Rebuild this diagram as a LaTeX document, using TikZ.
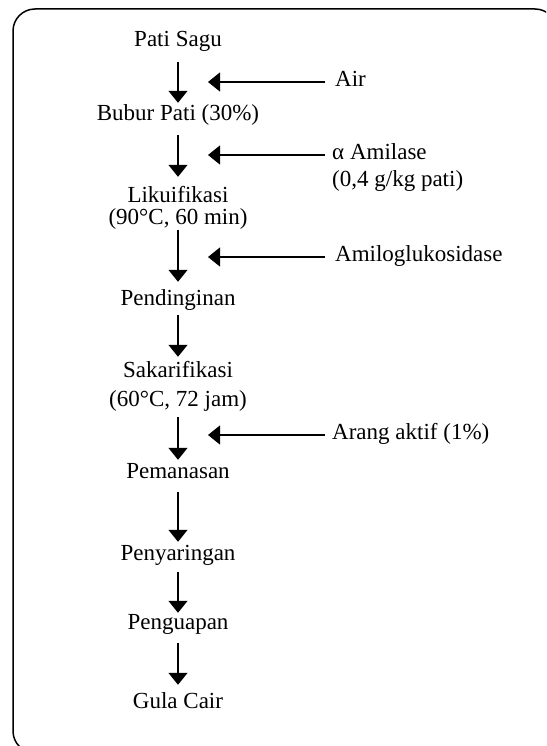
\documentclass[tikz,border=0pt]{standalone}
\usepackage{fontspec}
\setmainfont{Liberation Serif}
\usetikzlibrary{arrows.meta}
\tikzset{
  lbl/.style={inner sep=0pt, text height=14pt, text depth=5pt, font=\fontsize{23}{27}\selectfont},
  main/.style={lbl, anchor=center},
  side/.style={lbl, anchor=west},
  arr/.style={line width=1.2pt, -{Triangle[length=12pt,width=19pt]}},
  frame/.style={line width=1.5pt, rounded corners=22pt}
}
\begin{document}
\begin{tikzpicture}[x=1pt,y=-1pt]
\useasboundingbox (0,0) rectangle (546,746);
\clip (0,0) rectangle (546,746);
\draw[frame] (13,9) rectangle (557,753);
% main column
\node[main] (ps)  at (178,42)  {Pati Sagu};
\node[main] (bp)  at (178,116) {Bubur Pati (30\%)};
\node[main] (lk1) at (178,198) {Likuifikasi};
\node[main] (lk2) at (178,220) {(90°C, 60 min)};
\node[main] (pd)  at (178,301) {Pendinginan};
\node[main] (sk1) at (178,373) {Sakarifikasi};
\node[main] (sk2) at (178,402) {(60°C, 72 jam)};
\node[main] (pm)  at (178,474) {Pemanasan};
\node[main] (py)  at (178,556) {Penyaringan};
\node[main] (pg)  at (178,625) {Penguapan};
\node[main] (gc)  at (178,704) {Gula Cair};
% side inputs
\node[side] (air) at (335,82)  {Air};
\node[side] (am1) at (332,155) {α Amilase};
\node[side] (am2) at (332,182) {(0,4 g/kg pati)};
\node[side] (amg) at (335,257) {Amiloglukosidase};
\node[side] (ara) at (332,435) {Arang aktif (1\%)};
\coordinate (t1) at (208,82);
\coordinate (t2) at (208,155);
\coordinate (t3) at (208,257);
\coordinate (t4) at (208,435);
% main arrows
\draw[arr, shorten <=10.5pt, shorten >=3.5pt] (ps) -- (bp);
\draw[arr, shorten <=9.5pt, shorten >=11.5pt] (bp) -- (lk1);
\draw[arr, shorten <=0pt, shorten >=9.5pt] (lk2) -- (pd);
\draw[arr, shorten <=4.5pt, shorten >=6.5pt] (pd) -- (sk1);
\draw[arr, shorten <=5.5pt, shorten >=4.5pt] (sk2) -- (pm);
\draw[arr, shorten <=8.5pt, shorten >=4.5pt] (pm) -- (py);
\draw[arr, shorten <=6.5pt, shorten >=2.5pt] (py) -- (pg);
\draw[arr, shorten <=8.5pt, shorten >=9.5pt] (pg) -- (gc);
% side arrows
\draw[arr, shorten <=10pt] (air.west) -- (t1);
\draw[arr, shorten <=7pt] (am1.west) -- (t2);
\draw[arr, shorten <=10pt] (amg.west) -- (t3);
\draw[arr, shorten <=7pt] (ara.west) -- (t4);
\end{tikzpicture}
\end{document}
